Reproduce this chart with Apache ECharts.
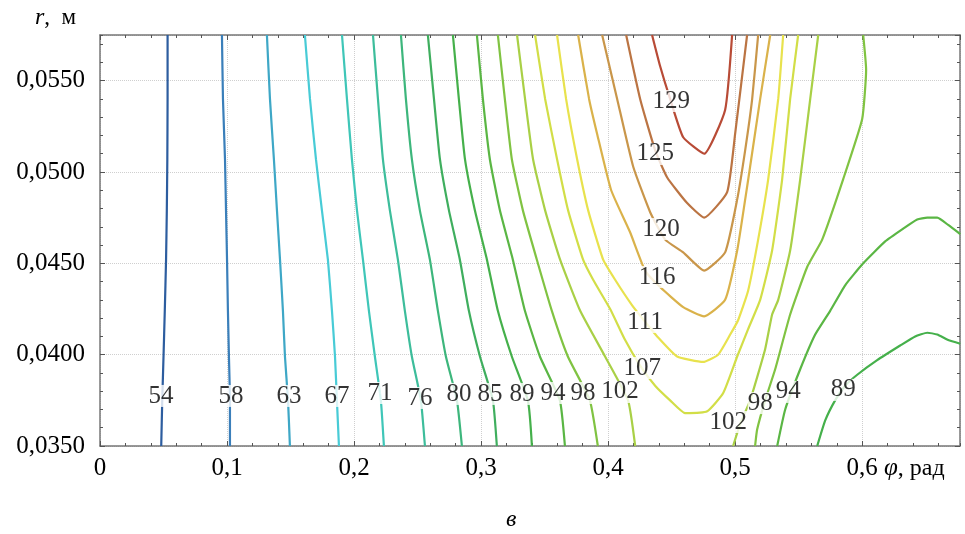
<!DOCTYPE html>
<html>
<head>
<meta charset="utf-8">
<script src="https://cdn.jsdelivr.net/npm/echarts@6/dist/echarts.min.js"></script>
<style>
  html, body { margin: 0; padding: 0; background: #fff; }
  #main { width: 965px; height: 534px; }
</style>
</head>
<body>
<div id="main"></div>
<script>
// уровни r, на которых сняты левые ветви изолиний
var rLevels = [0.0575, 0.0540, 0.0507, 0.0479, 0.0452, 0.0424, 0.0399, 0.0375, 0.0350];

// левые ветви (значения φ на уровнях rLevels)
var phi54  = [0.0532, 0.0532, 0.0530, 0.0526, 0.0520, 0.0510, 0.0500, 0.0490, 0.0482];
var phi58  = [0.0960, 0.0968, 0.0984, 0.0992, 0.1000, 0.1007, 0.1015, 0.1023, 0.1023];
var phi63  = [0.1314, 0.1338, 0.1369, 0.1393, 0.1417, 0.1440, 0.1456, 0.1480, 0.1495];
var phi67  = [0.1613, 0.1653, 0.1700, 0.1747, 0.1794, 0.1826, 0.1850, 0.1865, 0.1881];
var phi71  = [0.1905, 0.1944, 0.1983, 0.2023, 0.2070, 0.2117, 0.2164, 0.2211, 0.2235];
var phi76  = [0.2149, 0.2188, 0.2227, 0.2282, 0.2345, 0.2400, 0.2455, 0.2526, 0.2558];
var phi80  = [0.2369, 0.2408, 0.2455, 0.2518, 0.2597, 0.2660, 0.2723, 0.2810, 0.2849];
var phi85  = [0.2581, 0.2629, 0.2676, 0.2747, 0.2833, 0.2904, 0.2991, 0.3093, 0.3124];
var phi89  = [0.2778, 0.2825, 0.2873, 0.2951, 0.3046, 0.3132, 0.3242, 0.3368, 0.3400];
var phi94  = [0.2967, 0.3014, 0.3069, 0.3148, 0.3250, 0.3345, 0.3463, 0.3620, 0.3660];
var phi98  = [0.3132, 0.3187, 0.3242, 0.3329, 0.3439, 0.3557, 0.3683, 0.3856, 0.3919];
var phi102 = [0.3283, 0.3346, 0.3409, 0.3504, 0.3622, 0.3780, 0.3976, 0.4157, 0.4213];

// замкнутые сверху изолинии [φ, r]
var c107 = [[0.3425,0.0575],[0.3504,0.0540],[0.3598,0.0507],[0.3685,0.0479],[0.3803,0.0452],[0.3882,0.0441],
            [0.4016,0.0425],[0.4134,0.0408],[0.4252,0.0394],[0.4370,0.0383],[0.4488,0.0375],[0.4606,0.0368],
            [0.4780,0.0369],[0.4906,0.0379],[0.5016,0.0399],[0.5102,0.0414],[0.5197,0.0430],[0.5291,0.0457],
            [0.5370,0.0496],[0.5433,0.0540],[0.5496,0.0575]];
var c111 = [[0.3598,0.0575],[0.3669,0.0540],[0.3756,0.0507],[0.3843,0.0479],[0.3961,0.0452],[0.4055,0.0441],
            [0.4189,0.0427],[0.4291,0.0418],[0.4386,0.0410],[0.4543,0.0399],[0.4748,0.0396],[0.4866,0.0400],
            [0.4961,0.0411],[0.5024,0.0419],[0.5102,0.0435],[0.5181,0.0463],[0.5260,0.0496],[0.5339,0.0540],
            [0.5378,0.0575]];
var c116 = [[0.3764,0.0575],[0.3850,0.0540],[0.3913,0.0521],[0.4024,0.0490],[0.4173,0.0467],[0.4291,0.0446],
            [0.4409,0.0437],[0.4591,0.0426],[0.4756,0.0421],[0.4921,0.0430],[0.5016,0.0457],[0.5079,0.0485],
            [0.5118,0.0503],[0.5197,0.0540],[0.5276,0.0575]];
var c120 = [[0.3953,0.0575],[0.4071,0.0540],[0.4197,0.0503],[0.4331,0.0478],[0.4449,0.0463],[0.4591,0.0456],
            [0.4756,0.0446],[0.4921,0.0456],[0.5016,0.0485],[0.5079,0.0512],[0.5134,0.0540],[0.5181,0.0575]];
var c125 = [[0.4142,0.0575],[0.4252,0.0540],[0.4370,0.0512],[0.4465,0.0497],[0.4622,0.0483],[0.4756,0.0475],
            [0.4937,0.0489],[0.5000,0.0521],[0.5094,0.0575]];
var c129 = [[0.4346,0.0575],[0.4409,0.0558],[0.4488,0.0540],[0.4591,0.0519],[0.4756,0.0510],[0.4921,0.0534],
            [0.4976,0.0575]];

// правые ветви
var c102r = [[0.5654,0.0575],[0.5591,0.0540],[0.5512,0.0496],[0.5433,0.0457],[0.5339,0.0430],[0.5291,0.0422],
             [0.5236,0.0403],[0.5118,0.0375],[0.5039,0.0362],[0.4984,0.0350]];
var c98r  = [[0.6008,0.0575],[0.6031,0.0556],[0.6000,0.0529],[0.5850,0.0496],[0.5685,0.0463],[0.5567,0.0448],
             [0.5433,0.0422],[0.5315,0.0392],[0.5236,0.0375],[0.5173,0.0359],[0.5157,0.0350]];
var c94r  = [[0.5331,0.0350],[0.5394,0.0370],[0.5512,0.0392],[0.5630,0.0411],[0.5748,0.0424],[0.5866,0.0438],
             [0.6008,0.0450],[0.6181,0.0462],[0.6323,0.0469],[0.6433,0.0474],[0.6512,0.0475],[0.6591,0.0475],
             [0.6677,0.0471],[0.6772,0.0466]];
var c89r  = [[0.5646,0.0350],[0.5709,0.0364],[0.5787,0.0375],[0.5866,0.0383],[0.5961,0.0389],[0.6118,0.0397],
             [0.6299,0.0405],[0.6417,0.0410],[0.6512,0.0412],[0.6591,0.0411],[0.6677,0.0408],[0.6772,0.0406]];

// подписи изолиний
var labelVals = [54, 58, 63, 67, 71, 76, 80, 85, 89, 94, 98, 102, 107, 111, 116, 120, 125, 129, 102, 98, 94, 89];
var labelPhi  = [0.0480, 0.1031, 0.1488, 0.1866, 0.2205, 0.2520, 0.2827, 0.3071, 0.3323, 0.3567, 0.3803, 0.4094,
                 0.4268, 0.4291, 0.4386, 0.4417, 0.4370, 0.4496, 0.4945, 0.5197, 0.5417, 0.5850];
var labelR    = [0.03774, 0.03774, 0.03774, 0.03774, 0.03790, 0.03763, 0.03785, 0.03785, 0.03785, 0.03790, 0.03790, 0.03796,
                 0.03927, 0.04179, 0.04425, 0.04688, 0.05099, 0.05389, 0.03631, 0.03735, 0.03796, 0.03807];

var colors = {
    54: '#2d5d9f', 58: '#3a7fba', 63: '#3ea7c6', 67: '#48cbd6', 71: '#3fc6b8', 76: '#3dbd9b',
    80: '#3db67c', 85: '#3fae5e', 89: '#45b04b', 94: '#5ab644', 98: '#80c342', 102: '#a9d046',
    107: '#d2de47', 111: '#e8e24d', 116: '#dab24a', 120: '#c9964a', 125: '#bb7443', 129: '#b84b36'
};

function zip(phis) {
    return phis.map(function (p, i) { return [p, rLevels[i]]; });
}

var branches = [
    [54, zip(phi54)], [58, zip(phi58)], [63, zip(phi63)], [67, zip(phi67)], [71, zip(phi71)],
    [76, zip(phi76)], [80, zip(phi80)], [85, zip(phi85)], [89, zip(phi89)], [94, zip(phi94)],
    [98, zip(phi98)], [102, zip(phi102)],
    [107, c107], [111, c111], [116, c116], [120, c120], [125, c125], [129, c129],
    [102, c102r], [98, c98r], [94, c94r], [89, c89r]
];

var serif = '"Liberation Serif", "DejaVu Serif", serif';
var axisColor = '#777';

var series = branches.map(function (b) {
    return {
        type: 'line',
        data: b[1],
        symbol: 'none',
        smooth: 0.15,
        silent: true,
        z: 2,
        lineStyle: { color: colors[b[0]], width: 2.2 }
    };
});

series.push({
    type: 'scatter',
    data: labelPhi.map(function (p, i) { return [p, labelR[i], labelVals[i]]; }),
    symbolSize: 1,
    itemStyle: { color: '#fff' },
    silent: true,
    z: 10,
    label: {
        show: true,
        position: 'inside',
        formatter: function (p) { return String(p.value[2]); },
        fontFamily: serif,
        fontSize: 25,
        color: '#000',
        backgroundColor: '#fff',
        padding: [0, 0],
        lineHeight: 22
    }
});

var xMin = 0, xMax = 0.677, yMin = 0.035, yMax = 0.0575;

function xAx(position, interval, major) {
    return {
        type: 'value', position: position, min: xMin, max: xMax, interval: interval,
        axisLine: { show: major, onZero: false, lineStyle: { color: axisColor, width: 1.5 } },
        axisTick: { show: true, inside: true, length: major ? 5 : 3, lineStyle: { color: '#555' } },
        axisLabel: {
            show: major && position === 'bottom', showMaxLabel: false, margin: 10,
            fontFamily: serif, fontSize: 25, color: '#000',
            formatter: function (v) { return v === 0 ? '0' : v.toFixed(1).replace('.', ','); }
        },
        splitLine: { show: major && position === 'bottom', lineStyle: { color: '#cfcfcf', type: 'dotted', width: 1 } }
    };
}

function yAx(position, interval, major) {
    return {
        type: 'value', position: position, min: yMin, max: yMax, interval: interval,
        axisLine: { show: major, onZero: false, lineStyle: { color: axisColor, width: 1.5 } },
        axisTick: { show: true, inside: true, length: major ? 5 : 3, lineStyle: { color: '#555' } },
        axisLabel: {
            show: major && position === 'left', showMaxLabel: false, margin: 15,
            fontFamily: serif, fontSize: 25, color: '#000',
            formatter: function (v) { return v.toFixed(4).replace('.', ','); }
        },
        splitLine: { show: major && position === 'left', lineStyle: { color: '#cfcfcf', type: 'dotted', width: 1 } }
    };
}

var chart = echarts.init(document.getElementById('main'), null, { renderer: 'canvas' });
chart.setOption({
    animation: false,
    backgroundColor: '#fff',
    grid: { left: 100, right: 5, top: 35, bottom: 88, containLabel: false },
    xAxis: [xAx('bottom', 0.1, true), xAx('top', 0.1, true), xAx('bottom', 0.02, false), xAx('top', 0.02, false)],
    yAxis: [yAx('left', 0.005, true), yAx('right', 0.005, true), yAx('left', 0.001, false), yAx('right', 0.001, false)],
    series: series,
    graphic: [
        {
            type: 'text', left: 35, top: 6,
            style: {
                text: '{i|r},  м', fontFamily: serif, fontSize: 23, fill: '#000',
                rich: { i: { fontStyle: 'italic', fontFamily: serif, fontSize: 24 } }
            }
        },
        {
            type: 'text', left: 884, top: 456,
            style: {
                text: '{i|φ}, рад', fontFamily: serif, fontSize: 24, fill: '#000',
                rich: { i: { fontStyle: 'italic', fontFamily: serif, fontSize: 25 } }
            }
        },
        {
            type: 'text', left: 506, top: 508,
            style: { text: 'в', fontFamily: serif, fontSize: 24, fontStyle: 'italic', fill: '#000' }
        }
    ]
});
</script>
</body>
</html>
